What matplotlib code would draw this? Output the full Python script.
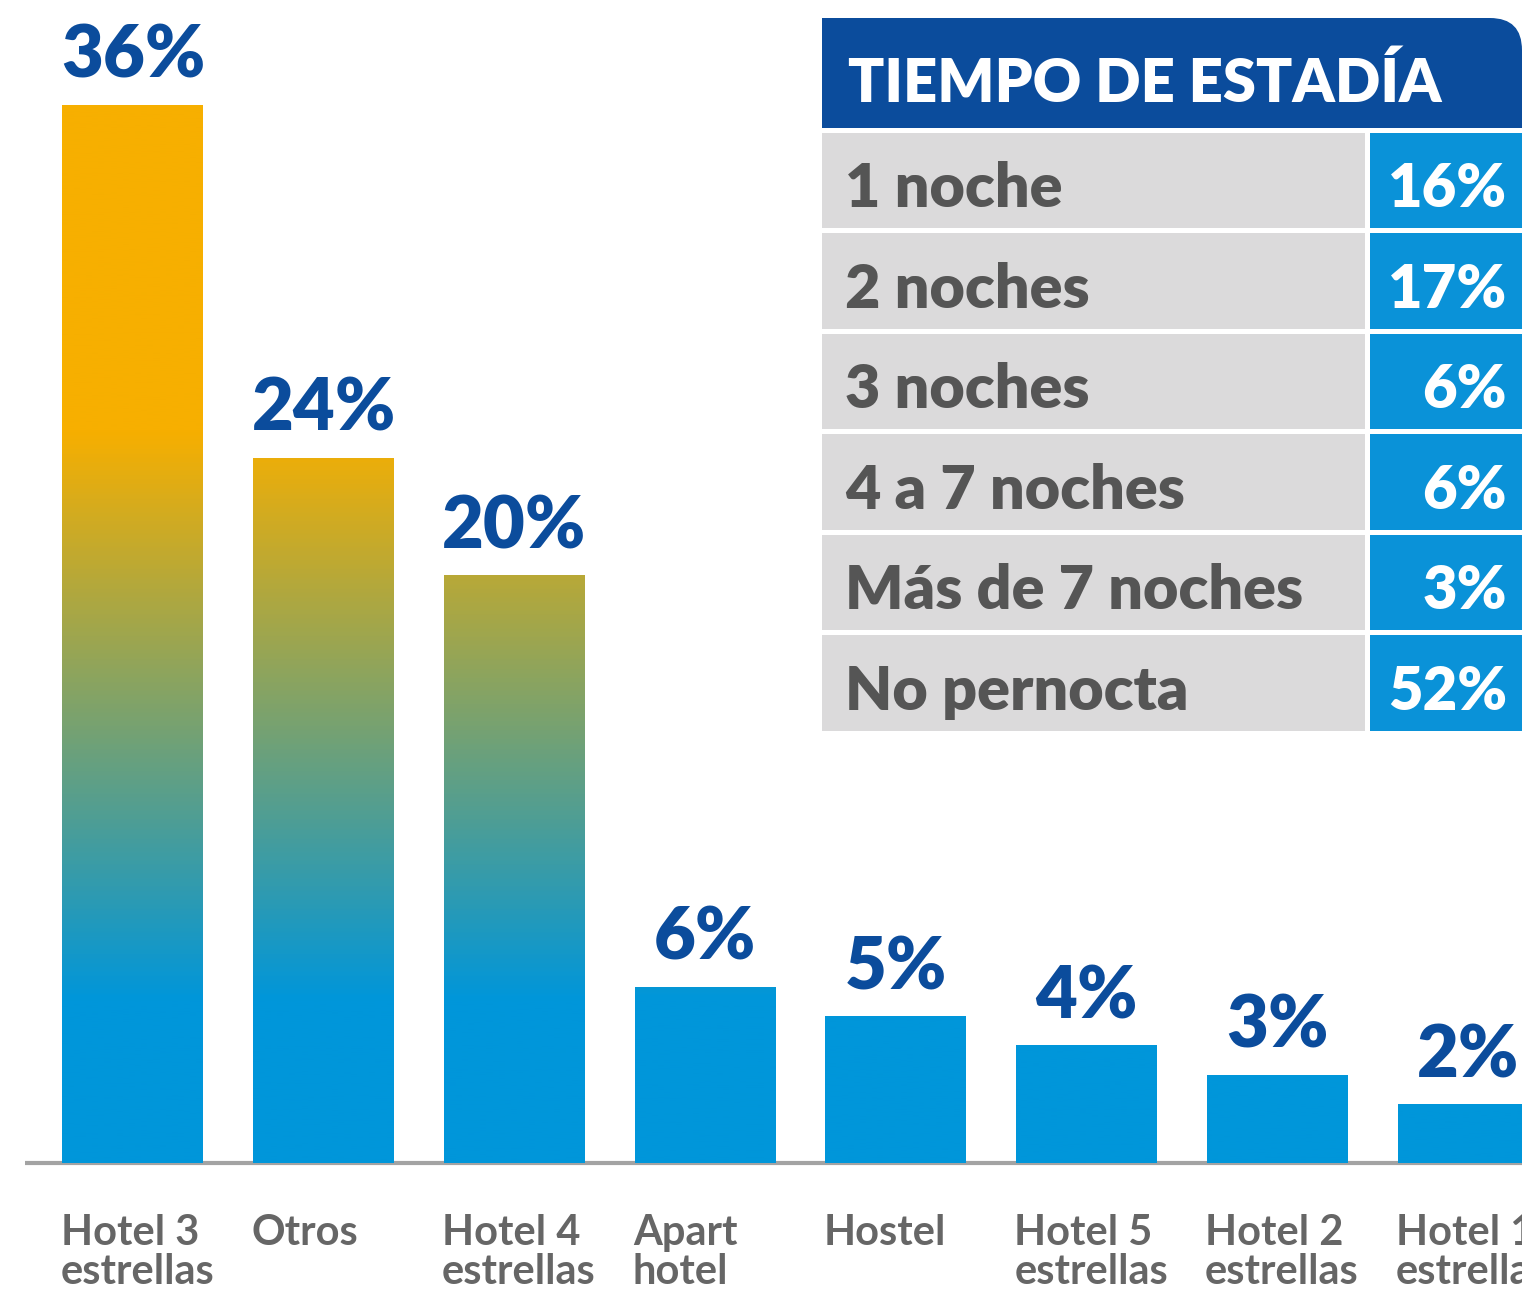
import matplotlib.pyplot as plt
import numpy as np
from matplotlib.colors import LinearSegmentedColormap
from matplotlib.patches import Rectangle, FancyBboxPatch

plt.rcParams['font.family'] = ['Lato', 'DejaVu Sans']

# bar chart data
categories = ['Hotel 3\nestrellas', 'Otros', 'Hotel 4\nestrellas', 'Apart\nhotel',
              'Hostel', 'Hotel 5\nestrellas', 'Hotel 2\nestrellas', 'Hotel 1\nestrellas']
shares = [36, 24, 20, 6, 5, 4, 3, 2]

# table data
stay_title = 'TIEMPO DE ESTADÍA'
stay_labels = ['1 noche', '2 noches', '3 noches', '4 a 7 noches', 'Más de 7 noches', 'No pernocta']
stay_shares = [16, 17, 6, 6, 3, 52]

dark_blue = '#0b4c9c'
light_blue = '#0a92d8'
orange = '#f7af00'
grey_txt = '#666666'

fig = plt.figure(figsize=(15.22, 12.89), dpi=100)

# ---- main bars ----
ax = fig.add_axes([0, 0, 1, 1])
x = np.arange(len(shares))
w = 0.739
xmin, xmax = -0.697, 7.282
ymin, ymax = -4.287, 39.57

bars = ax.bar(x, shares, width=w, color='none', edgecolor='none', zorder=2)

# gradient shared by all bars: orange at top, blue below ~5.5%
cmap = LinearSegmentedColormap.from_list(
    'grad', [(0, '#0096da'), (5.5 / 37, '#0096da'), (24.9 / 37, orange), (1, orange)])
grad = np.linspace(0, 1, 500).reshape(-1, 1)
for b in bars:
    im = ax.imshow(grad, extent=[xmin, xmax, 0, 37], origin='lower', aspect='auto',
                   cmap=cmap, zorder=2)
    im.set_clip_path(b)

ax.plot([xmin + 25 / 190.75, xmax], [0, 0], color='#a3a3a3', lw=3, zorder=1,
        solid_capstyle='butt')

for xi, v in zip(x, shares):
    ax.text(xi, v + 0.92, f'{v}%', ha='center', va='baseline', fontsize=52,
            fontweight='heavy', color=dark_blue)

for xi, lab in zip(x, categories):
    ax.text(xi - w / 2 - 0.01, -1.72, lab, ha='left', va='top', fontsize=30,
            fontweight='bold', color=grey_txt, linespacing=1.05)

ax.set_xlim(xmin, xmax)
ax.set_ylim(ymin, ymax)
ax.axis('off')

# ---- stay-length table ----
W, H = 1522, 1289
tx = fig.add_axes([822 / W, (H - 731) / H, 700 / W, 713 / H])
tx.set_xlim(0, 7.0)
tx.set_ylim(6.0, -1.09)
tx.axis('off')

tx.add_patch(FancyBboxPatch((0, -1.09), 7.0, 1.09,
                            boxstyle='round,pad=0,rounding_size=0.32',
                            fc=dark_blue, ec='none'))
tx.add_patch(Rectangle((0, -1.09), 6.5, 1.09, fc=dark_blue, ec='none'))
tx.add_patch(Rectangle((0, -0.5), 7.0, 0.5, fc=dark_blue, ec='none'))
tx.text(0.26, -0.255, stay_title, ha='left', va='baseline', fontsize=43,
        fontweight='heavy', color='white')

for i, (lab, v) in enumerate(zip(stay_labels, stay_shares)):
    tx.add_patch(Rectangle((0, i + 0.05), 5.43, 0.95, fc='#dbdadb', ec='none'))
    tx.add_patch(Rectangle((5.48, i + 0.05), 1.6, 0.95, fc=light_blue, ec='none'))
    tx.text(0.23, i + 0.79, lab, ha='left', va='baseline', fontsize=44,
            fontweight='heavy', color='#555555')
    tx.text(6.85, i + 0.79, f'{v}%', ha='right', va='baseline', fontsize=43,
            fontweight='heavy', color='white')

fig.savefig('out.png', dpi=100)
